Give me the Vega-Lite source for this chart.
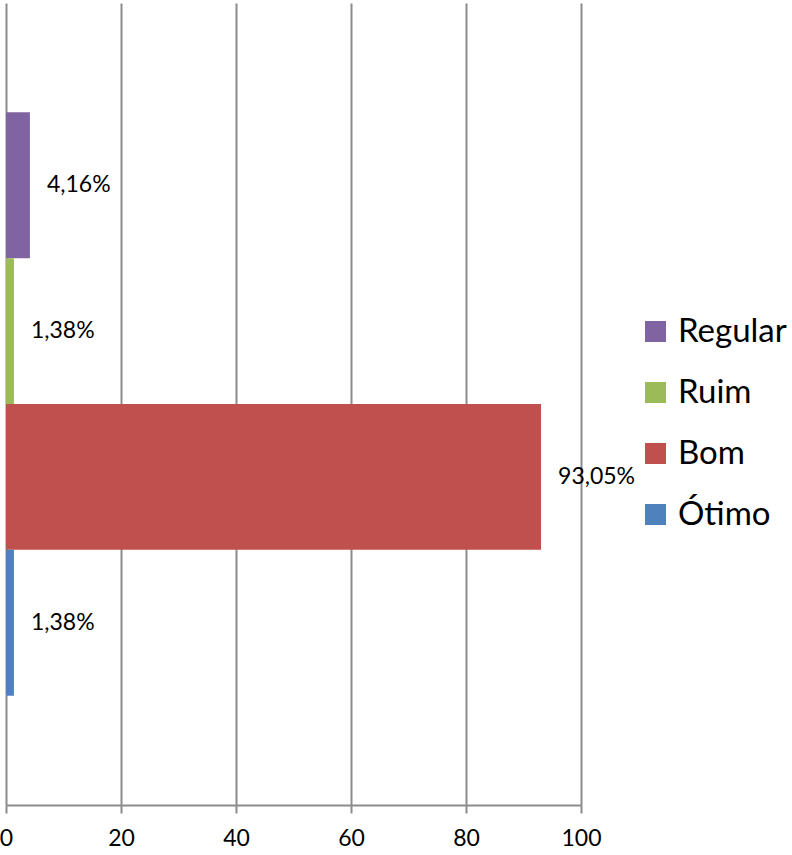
{
  "$schema": "https://vega.github.io/schema/vega-lite/v6.json",
  "autosize": {"type": "none"},
  "width": 575,
  "height": 802,
  "padding": {"left": 6, "top": 3, "right": 211, "bottom": 50},
  "background": "white",
  "config": {
    "view": {"stroke": null},
    "font": "Lato",
    "text": {"font": "Lato"}
  },
  "data": {
    "values": [
      {"categoria": "Regular", "valor": 4.16, "rotulo": "4,16%"},
      {"categoria": "Ruim", "valor": 1.38, "rotulo": "1,38%"},
      {"categoria": "Bom", "valor": 93.05, "rotulo": "93,05%"},
      {"categoria": "Ótimo", "valor": 1.38, "rotulo": "1,38%"}
    ]
  },
  "encoding": {
    "y": {
      "field": "categoria",
      "type": "nominal",
      "scale": {"domain": ["Regular", "Ruim", "Bom", "Ótimo"], "paddingInner": 0, "paddingOuter": 0.75},
      "axis": null
    },
    "x": {
      "field": "valor",
      "type": "quantitative",
      "scale": {"domain": [0, 100], "nice": false, "zero": true},
      "axis": {
        "title": null,
        "values": [0, 20, 40, 60, 80, 100],
        "grid": true,
        "gridColor": "#8c8c8c",
        "gridWidth": 2,
        "domainColor": "#8c8c8c",
        "domainWidth": 2,
        "tickColor": "#8c8c8c",
        "tickWidth": 2,
        "tickSize": 8,
        "labelFont": "Lato",
        "labelFontSize": 23,
        "labelColor": "#000000",
        "labelPadding": 14,
        "labelFlush": false,
        "labelOverlap": false
      }
    }
  },
  "layer": [
    {
      "mark": {"type": "bar"},
      "encoding": {
        "color": {
          "field": "categoria",
          "type": "nominal",
          "scale": {"domain": ["Regular", "Ruim", "Bom", "Ótimo"], "range": ["#8064A2", "#9BBB59", "#C0504D", "#4F81BD"]},
          "legend": {
            "title": null,
            "orient": "none",
            "legendX": 633,
            "legendY": 312,
            "padding": 0,
            "symbolType": "square",
            "symbolSize": 441,
            "symbolStrokeWidth": 0,
            "labelFont": "Lato",
            "labelFontSize": 33,
            "labelColor": "#000000",
            "labelOffset": 6,
            "rowPadding": 27,
            "labelLimit": 300
          }
        }
      }
    },
    {
      "mark": {"type": "text", "align": "left", "baseline": "middle", "dx": 17, "font": "Lato", "fontSize": 23, "color": "#000000"},
      "encoding": {
        "text": {"field": "rotulo", "type": "nominal"}
      }
    }
  ]
}
